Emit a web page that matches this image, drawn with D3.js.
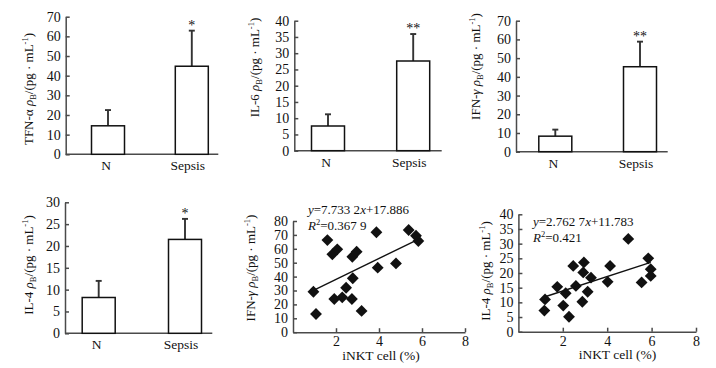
<!DOCTYPE html>
<html>
<head>
<meta charset="utf-8">
<script src="https://cdn.jsdelivr.net/npm/d3@7"></script>
<style>
  body { margin: 0; background: #fff; }
  svg text { font-family: "Liberation Serif", "Times New Roman", serif; fill: #111; }
</style>
</head>
<body>
<svg id="chart" width="716" height="368" font-family="Liberation Serif"></svg>
<script>
// ---- data ----
var cats = ["N", "Sepsis"];

var tnfMean = [14.5, 44.8], tnfSd = [8.0, 18.1], tnfSig = ["", "*"];
var il6Mean = [7.6, 27.6],  il6Sd = [3.6, 8.3],  il6Sig = ["", "**"];
var ifnMean = [8.3, 45.4],  ifnSd = [3.5, 13.4], ifnSig = ["", "**"];
var il4Mean = [8.2, 21.5],  il4Sd = [3.8, 4.7],  il4Sig = ["", "*"];

// iNKT cell (%) vs IFN-gamma
var ifnX = [0.95, 1.07, 1.6, 1.83, 2.06, 1.92, 2.29, 2.47, 2.74, 2.78, 2.76, 2.96, 3.19, 3.88, 3.94, 4.79, 5.38, 5.72, 5.83];
var ifnY = [29.1, 13.1, 66.3, 56, 59.6, 23.9, 25.1, 32, 23.9, 38.8, 54.3, 57.9, 15.3, 71.9, 46.4, 49.5, 73.5, 69.4, 65.6];
var ifnFitX = [1.0, 5.85], ifnFitY = [30.5, 67];

// iNKT cell (%) vs IL-4
var il4X = [1.17, 1.2, 1.75, 2.02, 2.13, 2.28, 2.47, 2.59, 2.95, 2.92, 2.88, 3.12, 3.27, 4.02, 4.13, 4.95, 5.55, 5.85, 5.96, 5.96];
var il4Y = [7.2, 11.0, 15.3, 8.9, 13.1, 5.1, 22.4, 15.6, 23.6, 20.2, 10.2, 13.6, 18.4, 17.0, 22.4, 31.6, 16.8, 25.0, 21.3, 19.0];
var il4FitX = [1.2, 5.96], il4FitY = [11.9, 23.6];

var xTicks = [2, 4, 6, 8];

// title pieces
function unitTitle(prefix) {
  return prefix.concat([
    {t: " "}, {t: "ρ", i: 1}, {t: "B", sub: 1}, {t: "/(pg · mL"}, {t: "-1", sup: 1}, {t: ")"}
  ]);
}

var svg = d3.select("#chart");
var axisColor = "#4a4a4a";

function drawTitle(g, parts, x, y) {
  var txt = g.append("text")
    .attr("transform", "translate(" + x + "," + y + ") rotate(-90)")
    .attr("text-anchor", "middle")
    .attr("dy", "0.35em")
    .style("font-size", "13px");
  var shift = 0;
  parts.forEach(function(p) {
    var ts = txt.append("tspan").text(p.t);
    var target = p.sub ? 3 : (p.sup ? -5 : 0);
    ts.attr("dy", target - shift);
    shift = target;
    if (p.sub || p.sup) ts.style("font-size", "8.5px");
    if (p.i) ts.style("font-style", "italic");
  });
}

function yAxis(g, y, x0, max, step) {
  g.append("g")
    .attr("transform", "translate(" + x0 + ",0)")
    .call(d3.axisLeft(y).tickValues(d3.range(0, max + 0.01, step)).tickSizeInner(-4).tickSizeOuter(0).tickPadding(5))
    .call(function(a) {
      a.attr("font-family", null).attr("font-size", null);
      a.selectAll("path, line").attr("stroke", axisColor).attr("stroke-width", 1.5);
      a.selectAll("text").style("font-size", "14px");
    });
}

// ---- bar panels ----
function barPanel(o) {
  var g = svg.append("g");
  var y = d3.scaleLinear().domain([0, o.max]).range([o.yBot, o.yTop]);
  var x = d3.scalePoint().domain(cats).range([o.x0 + o.padL, o.x1 - o.padR]);
  var bw = 33;

  yAxis(g, y, o.x0, o.max, o.step);
  g.append("line")
    .attr("x1", o.x0).attr("x2", o.x1).attr("y1", o.yBot).attr("y2", o.yBot)
    .attr("stroke", axisColor).attr("stroke-width", 1.5);

  cats.forEach(function(c, i) {
    var cx = x(c);
    // error bar
    g.append("line")
      .attr("x1", cx).attr("x2", cx)
      .attr("y1", y(o.mean[i])).attr("y2", y(o.mean[i] + o.sd[i]))
      .attr("stroke", "#333").attr("stroke-width", 1.9);
    g.append("line")
      .attr("x1", cx - 3).attr("x2", cx + 3)
      .attr("y1", y(o.mean[i] + o.sd[i])).attr("y2", y(o.mean[i] + o.sd[i]))
      .attr("stroke", "#333").attr("stroke-width", 1.9);
    g.append("rect")
      .attr("x", cx - bw / 2).attr("width", bw)
      .attr("y", y(o.mean[i])).attr("height", o.yBot - y(o.mean[i]))
      .attr("fill", "#fff").attr("stroke", "#111").attr("stroke-width", 1.5);
    if (o.sig[i]) {
      g.append("text")
        .attr("x", cx).attr("y", y(o.mean[i] + o.sd[i]) - 1)
        .attr("text-anchor", "middle")
        .style("font-size", "14px")
        .text(o.sig[i]);
    }
    g.append("text")
      .attr("x", cx - (i ? 4 : 2)).attr("y", o.yBot + 16)
      .attr("text-anchor", "middle")
      .style("font-size", "13.5px")
      .text(c);
  });

  drawTitle(g, unitTitle(o.title), o.tx, o.ty);
}

barPanel({mean: tnfMean, sd: tnfSd, sig: tnfSig, max: 70, step: 10,
  x0: 65.7, x1: 218.3, yTop: 16.7, yBot: 154.3, padL: 42.3, padR: 26.5,
  title: [{t: "TFN-α"}], tx: 33, ty: 89});
barPanel({mean: il6Mean, sd: il6Sd, sig: il6Sig, max: 40, step: 5,
  x0: 294.3, x1: 441.7, yTop: 20.7, yBot: 150.7, padL: 33.7, padR: 28.5,
  title: [{t: "IL-6"}], tx: 258.5, ty: 67.5});
barPanel({mean: ifnMean, sd: ifnSd, sig: ifnSig, max: 70, step: 10,
  x0: 516, x1: 667.7, yTop: 20.7, yBot: 151.7, padL: 39.3, padR: 27.7,
  title: [{t: "IFN-"}, {t: "γ", i: 1}], tx: 479.5, ty: 66.5});
barPanel({mean: il4Mean, sd: il4Sd, sig: il4Sig, max: 30, step: 5,
  x0: 65, x1: 212.3, yTop: 202.3, yBot: 333.3, padL: 33.7, padR: 27.3,
  title: [{t: "IL-4"}], tx: 33.3, ty: 265});

// ---- scatter panels ----
function scatterPanel(o) {
  var g = svg.append("g");
  var x = d3.scaleLinear().domain([0, 8]).range([o.x0, o.x1]);
  var y = d3.scaleLinear().domain([0, o.max]).range([o.yBot, o.yTop]);

  yAxis(g, y, o.x0, o.max, o.step);
  g.append("g")
    .attr("transform", "translate(0," + o.yBot + ")")
    .call(d3.axisBottom(x).tickValues(xTicks).tickSizeInner(-4).tickSizeOuter(0).tickPadding(4))
    .call(function(a) {
      a.attr("font-family", null).attr("font-size", null);
      a.selectAll("path, line").attr("stroke", axisColor).attr("stroke-width", 1.5);
      a.selectAll("text").style("font-size", "14px");
    });

  var diamond = d3.symbol().type(d3.symbolSquare).size(70);
  g.selectAll(".pt").data(o.xs).enter().append("path")
    .attr("d", diamond)
    .attr("transform", function(d, i) { return "translate(" + x(d) + "," + y(o.ys[i]) + ") rotate(45)"; })
    .attr("fill", "#111");

  g.append("line")
    .attr("x1", x(o.fitX[0])).attr("y1", y(o.fitY[0]))
    .attr("x2", x(o.fitX[1])).attr("y2", y(o.fitY[1]))
    .attr("stroke", "#111").attr("stroke-width", 1.4);

  var eq = g.append("text").attr("x", o.ex).attr("y", o.ey).style("font-size", "13px");
  eq.append("tspan").style("font-style", "italic").text("y");
  eq.append("tspan").text("=" + o.slope);
  eq.append("tspan").style("font-style", "italic").text("x");
  eq.append("tspan").text("+" + o.icpt);

  var r2 = g.append("text").attr("x", o.ex).attr("y", o.ey + 16).style("font-size", "13px");
  r2.append("tspan").style("font-style", "italic").text("R");
  r2.append("tspan").attr("dy", -5).style("font-size", "8.5px").text("2");
  r2.append("tspan").attr("dy", 5).text("=" + o.r2);

  g.append("text")
    .attr("x", o.lx).attr("y", o.yBot + 27.5)
    .attr("text-anchor", "middle")
    .style("font-size", "13.5px")
    .text("iNKT cell (%)");

  drawTitle(g, unitTitle(o.title), o.tx, o.ty);
}

scatterPanel({xs: ifnX, ys: ifnY, fitX: ifnFitX, fitY: ifnFitY, max: 80, step: 10,
  x0: 293, x1: 465, yTop: 221, yBot: 332.2,
  slope: "7.733 2", icpt: "17.886", r2: "0.367 9", ex: 308, ey: 213.5, lx: 381,
  title: [{t: "IFN-"}, {t: "γ", i: 1}], tx: 255, ty: 268});
scatterPanel({xs: il4X, ys: il4Y, fitX: il4FitX, fitY: il4FitY, max: 40, step: 5,
  x0: 518.4, x1: 696, yTop: 214.3, yBot: 331.7,
  slope: "2.762 7", icpt: "11.783", r2: "0.421", ex: 533, ey: 226, lx: 617.5,
  title: [{t: "IL-4"}], tx: 490, ty: 271});
</script>
</body>
</html>
